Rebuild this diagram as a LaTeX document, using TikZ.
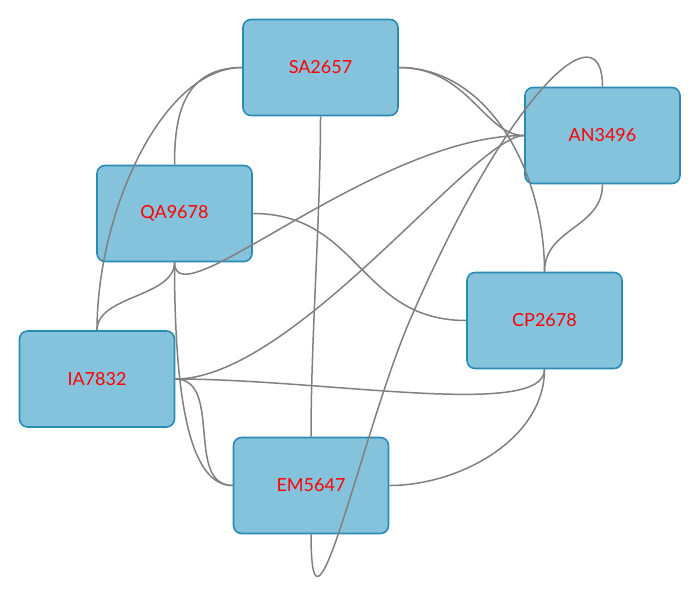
\documentclass[tikz,border=0pt]{standalone}
\usepackage{fontspec}
\setmainfont{Lato}
\usepackage{tikz}
\usetikzlibrary{positioning}
\usepackage{xcolor}

\definecolor{boxfill}{RGB}{133,195,220}
\definecolor{boxline}{RGB}{40,140,180}
\definecolor{linkgray}{RGB}{128,128,128}

\begin{document}
\begin{tikzpicture}[
    x=1pt, y=-1pt,
    flight/.style={rectangle, draw=boxline, fill=boxfill, line width=1.6pt, rounded corners=8pt, minimum width=155pt, minimum height=96pt, text=red, font=\fontsize{18}{20}\selectfont},
    link/.style={draw=linkgray, line width=1.5pt}
]
\useasboundingbox (0,0) rectangle (700,595);

% Nodes
\node[flight] (sa) at (320.5,67.5) {SA2657};
\node[flight] (an) at (602.5,135.5) {AN3496};
\node[flight] (qa) at (174.5,213.5) {QA9678};
\node[flight] (cp) at (544.5,320.5) {CP2678};
\node[flight] (ia) at (97,379) {IA7832};
\node[flight] (em) at (311,485.5) {EM5647};

% Links from SA2657
\draw[link] (sa.west) .. controls +(-60,0) and +(0,-47) .. (qa.north);
\draw[link] (sa.west) .. controls +(-80,0) and +(0,-118) .. (ia.north);
\draw[link] (sa.south) .. controls +(0,100) and +(0,-100) .. (em.north);
\draw[link] (sa.east) .. controls +(70,0) and +(-40,0) .. (an.west);
\draw[link] (sa.east) .. controls +(90,0) and +(0,-100) .. (cp.north);

% Links from AN3496
\draw[link] (an.north) .. controls +(0,-80) and (509,90.5) .. (410,320)
    .. controls (362.4,430.2) and +(0,140) .. (em.south);
\draw[link] (an.west) .. controls +(-150,0) and +(0,60) .. (qa.south);
\draw[link] (an.west) .. controls +(-50,0) and +(119,0) .. (ia.east);
\draw[link] (an.south) .. controls +(0,44) and +(0,-44) .. (cp.north);

% Links from QA9678
\draw[link] (qa.east) .. controls +(107,0) and +(-107,0) .. (cp.west);
\draw[link] (qa.south) .. controls +(0,35) and +(0,-35) .. (ia.north);
\draw[link] (qa.south) .. controls +(0,150) and +(-40,0) .. (em.west);

% Links from IA7832 and CP2678
\draw[link] (ia.east) .. controls +(48,0) and +(-48,0) .. (em.west);
\draw[link] (ia.east) .. controls +(150,0) and +(0,50) .. (cp.south);
\draw[link] (cp.south) .. controls +(0,70) and +(70,0) .. (em.east);

\end{tikzpicture}
\end{document}
